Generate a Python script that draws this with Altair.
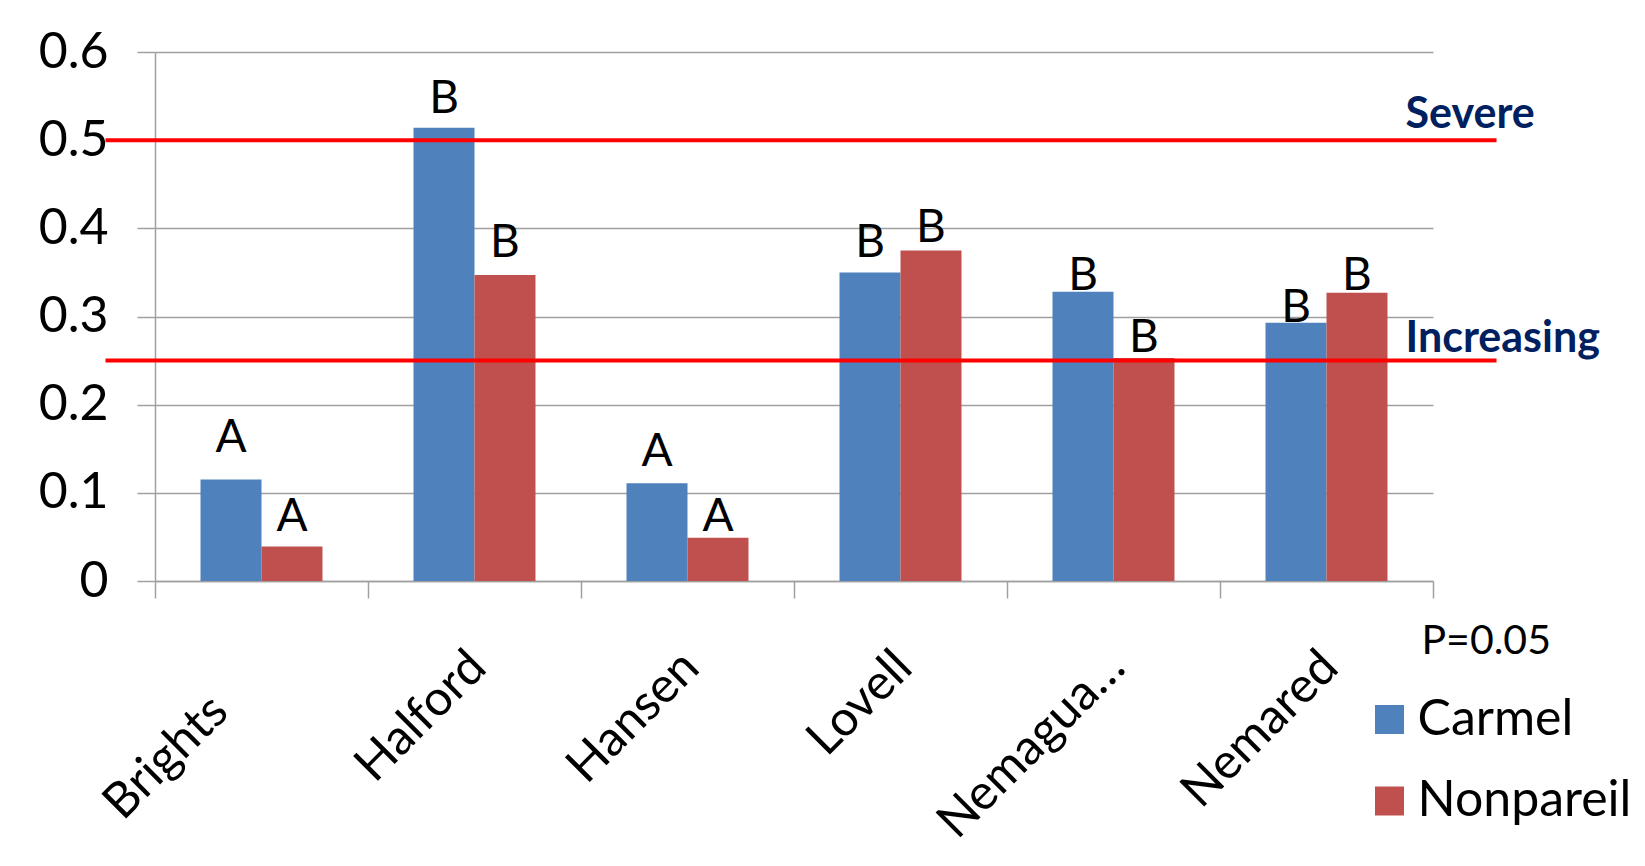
import altair as alt
import pandas as pd

categories = ["Brights", "Halford", "Hansen", "Lovell", "Nemagua\u2026", "Nemared"]
series_names = ["Carmel", "Nonpareil"]
series_colors = ["#4F81BD", "#C0504D"]

carmel = [0.115, 0.514, 0.111, 0.350, 0.328, 0.293]
nonpareil = [0.039, 0.347, 0.049, 0.375, 0.253, 0.327]

carmel_letters = ["A", "B", "A", "B", "B", "B"]
nonpareil_letters = ["A", "B", "A", "B", "B", "B"]
carmel_letter_y = [0.146, 0.531, 0.130, 0.3675, 0.330, 0.294]
nonpareil_letter_y = [0.057, 0.3675, 0.057, 0.3845, 0.260, 0.330]

threshold_values = [0.5, 0.25]
threshold_names = ["Severe", "Increasing"]
p_text = "P=0.05"
y_ticks = [0, 0.1, 0.2, 0.3, 0.4, 0.5, 0.6]

rows = []
for i, c in enumerate(categories):
    rows.append(dict(cat=c, series="Carmel", value=carmel[i],
                     letter=carmel_letters[i], letter_y=carmel_letter_y[i]))
    rows.append(dict(cat=c, series="Nonpareil", value=nonpareil[i],
                     letter=nonpareil_letters[i], letter_y=nonpareil_letter_y[i]))
df = pd.DataFrame(rows)
thr = pd.DataFrame({"value": threshold_values, "name": threshold_names})

GRAY = "#a0a0a0"
LABEL_FS = 49
LABEL_PAD = 61
LABEL_OFF = 3
TICK = 17
yscale = alt.Scale(domain=[0, 0.6], nice=False)
xscale = alt.Scale(paddingInner=0, paddingOuter=0)

first_cat = categories[0]
x_enc = alt.X(
    "cat:N", sort=categories, scale=xscale,
    axis=alt.Axis(
        title=None, labelAngle=-45, labelAlign="right", labelBaseline="middle",
        labelFontSize=LABEL_FS, labelPadding=LABEL_PAD, labelOffset=LABEL_OFF,
        tickBand="extent", tickSize=TICK, tickColor=GRAY, tickWidth=1.5,
        domainColor=GRAY, domainWidth=1.5, labelColor="black", grid=False,
        labelLimit=500, labelOverlap=False, labelBound=False,
        labelExpr="datum.value == '" + first_cat + "' ? '' : datum.value",
    ),
)
x_plain = alt.X("cat:N", sort=categories, scale=xscale, title=None)

bars = alt.Chart(df).mark_bar().encode(
    x=x_enc,
    xOffset=alt.XOffset("series:N", sort=series_names,
                        scale=alt.Scale(paddingInner=0, paddingOuter=0.746)),
    y=alt.Y("value:Q", scale=yscale,
            axis=alt.Axis(title=None, values=y_ticks, format="~g", labelFontSize=50,
                          labelPadding=29, tickSize=18, tickColor=GRAY, tickWidth=1.5,
                          domainColor=GRAY, domainWidth=1.5, gridColor=GRAY,
                          gridWidth=1.5, labelColor="black")),
    color=alt.Color("series:N", sort=series_names,
                    scale=alt.Scale(domain=series_names, range=series_colors),
                    legend=alt.Legend(orient="none", legendX=1209.5, legendY=642.5,
                                      title=None, symbolType="square", symbolSize=841,
                                      labelFontSize=50, labelOffset=3, rowPadding=31.5,
                                      padding=0, symbolStrokeWidth=0, labelColor="black",
                                      labelLimit=500, symbolOpacity=1)),
)

rules = alt.Chart(thr).mark_rule(color="#ff0000", strokeWidth=4).encode(
    y=alt.Y("value:Q", scale=yscale, title=None),
    x=alt.value(-49.5),
    x2=alt.value(1341.5),
)

letters = alt.Chart(df).mark_text(
    fontSize=46, baseline="alphabetic", align="center", color="black"
).encode(
    x=x_plain,
    xOffset=alt.XOffset("series:N", sort=series_names),
    y=alt.Y("letter_y:Q", scale=yscale, title=None),
    text="letter:N",
)

# first category label sits a little further down-left, as in the original
first_label = alt.Chart(pd.DataFrame({"cat": [first_cat]})).mark_text(
    angle=315, align="right", baseline="middle", fontSize=LABEL_FS, color="black",
    dx=-61, dy=2,
).encode(
    x=x_plain,
    y=alt.value(529 + TICK + LABEL_PAD),
    text="cat:N",
)

thr_texts = []
for val, name, dy in zip(threshold_values, threshold_names, [-12, -9]):
    d = pd.DataFrame({"value": [val], "name": [name]})
    thr_texts.append(
        alt.Chart(d).mark_text(align="left", baseline="alphabetic", fontSize=43,
                               fontWeight="bold", color="#002060", dy=dy).encode(
            x=alt.value(1250.5),
            y=alt.Y("value:Q", scale=yscale, title=None),
            text="name:N",
        )
    )

ptxt = alt.Chart(pd.DataFrame({"t": [p_text]})).mark_text(
    align="left", baseline="alphabetic", fontSize=41, color="black"
).encode(x=alt.value(1266.5), y=alt.value(602), text="t:N")

chart = alt.layer(bars, rules, letters, first_label, *thr_texts, ptxt).properties(
    width=1278, height=529,
    autosize=alt.AutoSizeParams(type="none"),
    padding={"left": 147, "top": 44, "right": 204, "bottom": 270},
    background="white",
).configure(font="Lato").configure_view(stroke=None)

chart.save("out.html", embed_options={"renderer": "svg", "actions": False})
